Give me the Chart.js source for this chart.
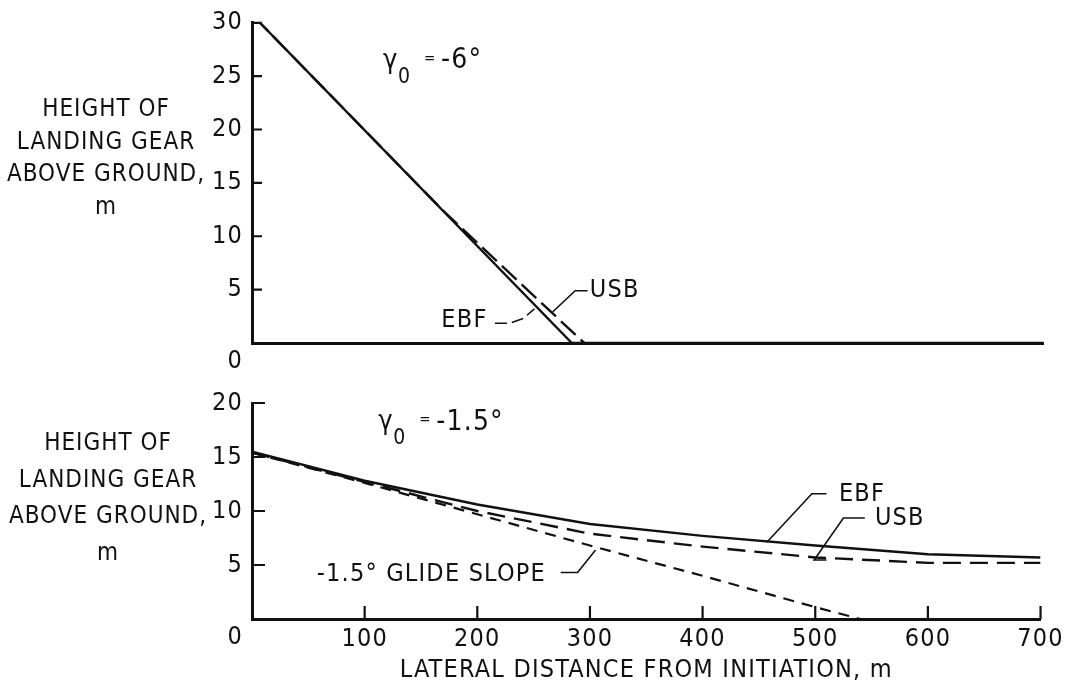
<!DOCTYPE html>
<html>
<head>
<meta charset="utf-8">
<title>Landing gear height</title>
<script src="https://cdn.jsdelivr.net/npm/chart.js@4.4.1/dist/chart.umd.min.js"></script>
<style>
  html, body { margin: 0; padding: 0; background: #fff; }
  #wrap { position: relative; width: 1067px; height: 691px; overflow: hidden; }
  canvas { position: absolute; left: 0; }
  #chartTop { top: 0; }
  #chartBot { top: 380px; }
  .ytitle {
    position: absolute; left: 0; width: 212px; text-align: center;
    font-family: "Liberation Sans Narrow", "DejaVu Sans Condensed", "Arial Narrow", sans-serif;
    font-size: 24px; letter-spacing: 1px; color: #111;
  }
  #titleTop { top: 92px; line-height: 32.5px; }
  #titleBot { top: 424px; line-height: 36.5px; left: 2px; }
</style>
</head>
<body>
<div id="wrap">
  <canvas id="chartTop" width="1067" height="380"></canvas>
  <canvas id="chartBot" width="1067" height="311"></canvas>
  <div class="ytitle" id="titleTop">HEIGHT OF<br>LANDING GEAR<br>ABOVE GROUND,<br>m</div>
  <div class="ytitle" id="titleBot">HEIGHT OF<br>LANDING GEAR<br>ABOVE GROUND,<br>m</div>
</div>
<script>
const FONT = '"Liberation Sans Narrow", "DejaVu Sans Condensed", "Arial Narrow", sans-serif';
const INK = "#111";

// shared x axis (lateral distance, m)
const distTicks = [0, 100, 200, 300, 400, 500, 600, 700];
const heightTicksTop = [0, 5, 10, 15, 20, 25, 30];
const heightTicksBot = [0, 5, 10, 15, 20];

// gamma0 = -6 deg
const ebfSteep = [[0, 30], [7, 30], [283, 0], [700, 0]];
const usbSteep = [[0, 30], [7, 30], [170, 12.3], [294, 0]];

// gamma0 = -1.5 deg
const ebfShallow = [[0, 15.5], [100, 12.8], [200, 10.6], [300, 8.8], [400, 7.7], [500, 6.8], [600, 6.0], [700, 5.7]];
const usbShallow = [[0, 15.4], [100, 12.7], [200, 10.0], [300, 7.9], [400, 6.7], [500, 5.7], [600, 5.2], [700, 5.2]];
const glideSlope = [[0, 15.4], [100, 12.6], [200, 9.7], [300, 6.8], [400, 4.0], [500, 1.1], [540, 0]];

// callouts, in data units of each panel
const notesTop = [
  { text: "EBF", x: 188, y: 2.1, align: "center" },
  { text: "USB", x: 299, y: 4.9, align: "left" }
];
const leadersTop = [
  { pts: [[215, 1.85], [228, 1.85], [240, 2.3], [250, 3.2]], dash: [12, 5] },
  { pts: [[297, 4.9], [286, 4.9], [266, 2.9]] }
];
const notesBot = [
  { text: "EBF", x: 521, y: 11.5, align: "left" },
  { text: "USB", x: 553, y: 9.35, align: "left" },
  { text: "-1.5° GLIDE SLOPE", x: 261, y: 4.1, align: "right" }
];
const leadersBot = [
  { pts: [[510, 11.6], [497, 11.6], [457, 7.1]] },
  { pts: [[544, 9.35], [525, 9.35], [499, 5.46], [510, 5.46]] },
  { pts: [[274, 4.3], [289, 4.3], [305, 6.4]] }
];

const toXY = arr => arr.map(([x, y]) => ({ x, y }));

// tick marks drawn on the inside of both axes
const inwardTicks = {
  id: "inwardTicks",
  afterDraw(chart, args, opts) {
    const { ctx, chartArea: a, scales: { x, y } } = chart;
    ctx.save();
    ctx.strokeStyle = INK;
    ctx.lineWidth = 2.2;
    ctx.beginPath();
    y.ticks.forEach(t => {
      if (t.value === 0) return;
      const py = y.getPixelForValue(t.value);
      ctx.moveTo(a.left, py);
      ctx.lineTo(a.left + opts.len, py);
    });
    if (opts.xTicks) {
      x.ticks.forEach(t => {
        if (t.value === 0) return;
        const px = x.getPixelForValue(t.value);
        ctx.moveTo(px, a.bottom);
        ctx.lineTo(px, a.bottom - opts.len);
      });
    }
    ctx.stroke();

    // the zero of the height scale sits below the corner
    ctx.fillStyle = INK;
    ctx.font = "25px " + FONT;
    ctx.textAlign = "right";
    ctx.textBaseline = "middle";
    ctx.fillText("0", a.left - 9, y.getPixelForValue(0) + 18);
    ctx.restore();
  }
};

// curve labels, leader lines and the gamma0 heading
const callouts = {
  id: "callouts",
  beforeDraw(chart) {
    chart.ctx.letterSpacing = "1.2px";
  },
  afterDatasetsDraw(chart, args, opts) {
    const { ctx, scales: { x, y } } = chart;
    ctx.save();
    ctx.strokeStyle = INK;
    ctx.lineWidth = 1.6;
    (opts.leaders || []).forEach(l => {
      ctx.setLineDash(l.dash || []);
      ctx.beginPath();
      l.pts.forEach(([a, b], i) => {
        const px = x.getPixelForValue(a), py = y.getPixelForValue(b);
        if (i) ctx.lineTo(px, py); else ctx.moveTo(px, py);
      });
      ctx.stroke();
    });
    ctx.setLineDash([]);
    ctx.fillStyle = INK;
    ctx.textBaseline = "middle";
    ctx.font = "25px " + FONT;
    (opts.notes || []).forEach(n => {
      ctx.textAlign = n.align;
      ctx.fillText(n.text, x.getPixelForValue(n.x), y.getPixelForValue(n.y));
    });
    const g = opts.gamma;
    if (g) {
      const gx = x.getPixelForValue(g.x), gy = y.getPixelForValue(g.y);
      ctx.textAlign = "left";
      ctx.font = "27px " + FONT;
      ctx.fillText("γ", gx, gy);
      ctx.font = "21px " + FONT;
      ctx.fillText("0", gx + 15, gy + 16);
      ctx.font = "15px " + FONT;
      ctx.fillText("=", gx + 41, gy - 2);
      ctx.font = "28px " + FONT;
      ctx.fillText(g.value, gx + 58, gy);
    }
    ctx.restore();
  }
};

function heightAxis(ticks, max) {
  return {
    type: "linear",
    min: 0,
    max,
    afterBuildTicks: s => { s.ticks = ticks.map(v => ({ value: v })); },
    afterFit: s => { s.width = 252; },
    border: { display: true, color: INK, width: 3 },
    grid: { display: true, drawOnChartArea: false, drawTicks: false },
    ticks: {
      color: INK,
      padding: 9,
      autoSkip: false,
      font: { family: FONT, size: 25, lineHeight: 1.1 },
      callback: v => (v === 0 ? "" : String(v))
    }
  };
}

function lineSet(label, pts, dash, width) {
  return {
    label,
    data: toXY(pts),
    borderColor: INK,
    borderWidth: width,
    borderDash: dash,
    pointRadius: 0,
    fill: false,
    tension: 0
  };
}

new Chart(document.getElementById("chartTop"), {
  type: "line",
  data: {
    datasets: [
      lineSet("EBF", ebfSteep, [], 2.4),
      lineSet("USB", usbSteep, [20, 7], 2.4)
    ]
  },
  options: {
    responsive: false,
    animation: false,
    layout: { padding: { top: 18, right: 24, left: 0, bottom: 0 } },
    plugins: {
      legend: { display: false },
      tooltip: { enabled: false },
      inwardTicks: { len: 10, xTicks: false },
      callouts: { notes: notesTop, leaders: leadersTop, gamma: { x: 116, y: 26.4, value: "-6°" } }
    },
    scales: {
      x: {
        type: "linear",
        min: 0,
        max: 700,
        afterBuildTicks: s => { s.ticks = distTicks.map(v => ({ value: v })); },
        afterFit: s => { s.height = 37; },
        border: { display: true, color: INK, width: 3 },
        grid: { display: true, drawOnChartArea: false, drawTicks: false },
        ticks: { display: false }
      },
      y: heightAxis(heightTicksTop, 30)
    }
  },
  plugins: [inwardTicks, callouts]
});

new Chart(document.getElementById("chartBot"), {
  type: "line",
  data: {
    datasets: [
      lineSet("EBF", ebfShallow, [], 2.4),
      lineSet("USB", usbShallow, [18, 9], 2.4),
      lineSet("-1.5° glide slope", glideSlope, [11, 8], 2.2)
    ]
  },
  options: {
    responsive: false,
    animation: false,
    layout: { padding: { top: 23, right: 22, left: 0, bottom: 0 } },
    plugins: {
      legend: { display: false },
      tooltip: { enabled: false },
      inwardTicks: { len: 13, xTicks: true },
      callouts: { notes: notesBot, leaders: leadersBot, gamma: { x: 112, y: 18.2, value: "-1.5°" } }
    },
    scales: {
      x: {
        type: "linear",
        min: 0,
        max: 700,
        afterBuildTicks: s => { s.ticks = distTicks.map(v => ({ value: v })); },
        afterFit: s => { s.height = 72; },
        border: { display: true, color: INK, width: 3 },
        grid: { display: true, drawOnChartArea: false, drawTicks: false },
        ticks: {
          color: INK,
          padding: 5,
          maxRotation: 0,
          autoSkip: false,
          font: { family: FONT, size: 25 },
          callback: v => (v === 0 ? "" : String(v))
        },
        title: {
          display: true,
          text: "LATERAL DISTANCE FROM INITIATION, m",
          color: INK,
          font: { family: FONT, size: 25 },
          padding: { top: 2, bottom: 6 }
        }
      },
      y: heightAxis(heightTicksBot, 20)
    }
  },
  plugins: [inwardTicks, callouts]
});
</script>
</body>
</html>
